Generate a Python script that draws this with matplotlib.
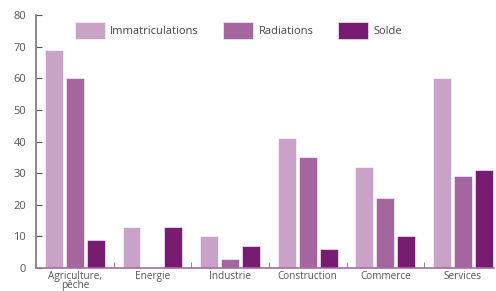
import matplotlib
matplotlib.use("Agg")
import matplotlib.pyplot as plt
import numpy as np

categories = ["Agriculture,\npêche", "Energie", "Industrie", "Construction", "Commerce", "Services"]
immatriculations = [69, 13, 10, 41, 32, 60]
radiations = [60, 0, 3, 35, 22, 29]
solde = [9, 13, 7, 6, 10, 31]
series_names = ["Immatriculations", "Radiations", "Solde"]
colors = ["#c9a2c8", "#a5669f", "#781c72"]

plt.rcParams['font.family'] = ['Open Sans', 'DejaVu Sans']

fig = plt.figure(figsize=(4.96, 2.91), dpi=100)
ax = fig.add_axes([36/496, 1-268/291, 458/496, (268-15)/291])

x = np.arange(len(categories))
w = 0.23
off = 0.27
for i, (vals, name, c) in enumerate(zip([immatriculations, radiations, solde], series_names, colors)):
    ax.bar(x + (i-1)*off, vals, width=w, color=c, label=name, edgecolor='white', linewidth=0.4)

ax.set_xlim(-0.5, 5.4)
ax.set_ylim(0, 80)
ax.set_yticks(range(0, 81, 10))
ax.set_xticks(x)
ax.set_xticklabels(categories, fontsize=7.2, color='#555555', linespacing=0.75)
ax.set_xticks(np.arange(0.5, 5, 1), minor=True)
ax.tick_params(axis='x', which='major', length=0, pad=2)
ax.tick_params(axis='x', which='minor', length=4, direction='in', color='#777777')
ax.tick_params(axis='y', labelsize=8, colors='#555555', direction='in', length=4, pad=7)
for s in ['top', 'right']:
    ax.spines[s].set_visible(False)
ax.spines['left'].set_color('#777777')
ax.spines['bottom'].set_color('#a070a0')
ax.spines['left'].set_linewidth(1.2)
ax.spines['bottom'].set_linewidth(1.2)

ax.legend(loc='upper left', bbox_to_anchor=(0.07, 1.0), ncol=3, frameon=False,
          fontsize=8.0, handlelength=2.7, handleheight=1.98, columnspacing=2.2,
          handletextpad=0.5, labelcolor='#444444', borderaxespad=0.2)

fig.savefig("out.png", dpi=100)
